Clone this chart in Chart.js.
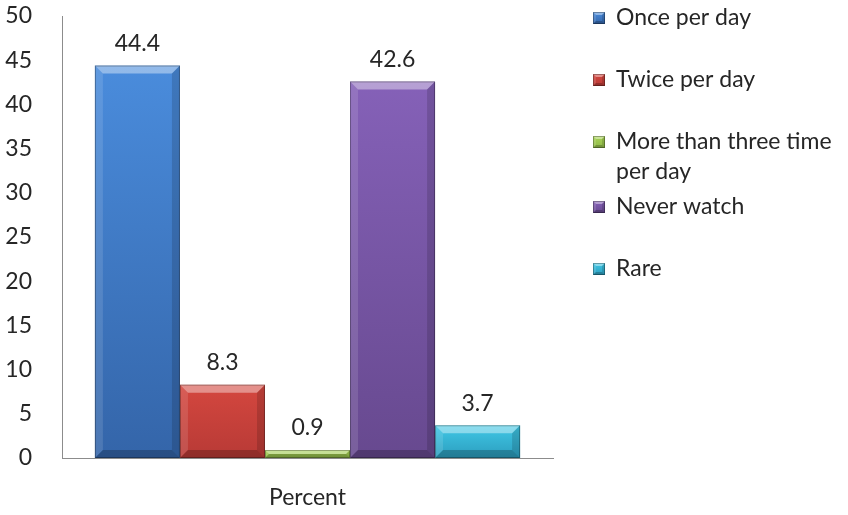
<!DOCTYPE html>
<html lang="en">
<head>
  <meta charset="UTF-8" />
  <title>Percent</title>
  <script src="https://cdn.jsdelivr.net/npm/chart.js"></script>
  <style>
    html, body { margin: 0; padding: 0; background: #fff; }
    .wrap { width: 848px; height: 515px; }
  </style>
</head>
<body>
  <div class="wrap"><canvas id="chart" width="848" height="515"></canvas></div>

  <script>
    const categories = ['Percent'];
    const seriesNames = ['Once per day', 'Twice per day', 'More than three time per day', 'Never watch', 'Rare'];
    const seriesValues = [[44.4], [8.3], [0.9], [42.6], [3.7]];
    const legendLines = [['Once per day'], ['Twice per day'], ['More than three time', 'per day'], ['Never watch'], ['Rare']];
    const yTicks = [0, 5, 10, 15, 20, 25, 30, 35, 40, 45, 50];

    // light / dark face colours per series
    const colorsTop = ['#4a8cdc', '#d4473f', '#a9d456', '#8561b8', '#40c8e6'];
    const colorsBottom = ['#3465a9', '#b83a36', '#8fb848', '#67498f', '#2c9dbe'];

    const FONT = 'Lato, "Open Sans", sans-serif';
    const FS = 23;
    const TEXT = '#262626';

    function faceGradient(ctx) {
      const chart = ctx.chart;
      const i = ctx.datasetIndex;
      const y = chart.scales && chart.scales.y;
      if (!y || ctx.parsed == null) return colorsTop[i];
      const top = y.getPixelForValue(ctx.parsed.y);
      const bot = y.getPixelForValue(0);
      if (!isFinite(top) || !isFinite(bot) || top === bot) return colorsTop[i];
      const g = chart.ctx.createLinearGradient(0, top, 0, bot);
      g.addColorStop(0, colorsTop[i]);
      g.addColorStop(1, colorsBottom[i]);
      return g;
    }

    function bevel(c, x0, y0, x1, y1, b) {
      b = Math.min(b, (y1 - y0) / 2, (x1 - x0) / 2);
      const poly = (pts, fill) => {
        c.beginPath();
        c.moveTo(pts[0][0], pts[0][1]);
        for (let k = 1; k < pts.length; k++) c.lineTo(pts[k][0], pts[k][1]);
        c.closePath();
        c.fillStyle = fill;
        c.fill();
      };
      poly([[x0, y0], [x1, y0], [x1 - b, y0 + b], [x0 + b, y0 + b]], 'rgba(255,255,255,0.4)');
      poly([[x0, y0], [x0 + b, y0 + b], [x0 + b, y1 - b], [x0, y1]], 'rgba(255,255,255,0.12)');
      poly([[x1, y0], [x1, y1], [x1 - b, y1 - b], [x1 - b, y0 + b]], 'rgba(0,0,0,0.14)');
      poly([[x0, y1], [x0 + b, y1 - b], [x1 - b, y1 - b], [x1, y1]], 'rgba(0,0,0,0.22)');
      c.strokeStyle = 'rgba(0,0,0,0.3)';
      c.lineWidth = 1;
      c.strokeRect(x0 + 0.5, y0 + 0.5, x1 - x0 - 1, y1 - y0 - 1);
    }

    const barExtras = {
      id: 'barExtras',
      afterDatasetsDraw(chart) {
        const c = chart.ctx;
        c.save();
        chart.data.datasets.forEach((ds, i) => {
          chart.getDatasetMeta(i).data.forEach((bar, j) => {
            const x0 = bar.x - bar.width / 2, x1 = bar.x + bar.width / 2;
            bevel(c, x0, bar.y, x1, bar.base, 8);
            c.fillStyle = TEXT;
            c.font = FS + 'px ' + FONT;
            c.textAlign = 'center';
            c.textBaseline = 'middle';
            c.fillText(String(ds.data[j]), bar.x, bar.y - 22);
          });
        });
        c.restore();
      },
      afterDraw(chart) {
        // legend on the right with wrapped labels
        const c = chart.ctx;
        c.save();
        c.font = FS + 'px ' + FONT;
        c.textBaseline = 'middle';
        c.textAlign = 'left';
        let y = 18;
        legendLines.forEach((lines, i) => {
          const g = c.createLinearGradient(0, y - 6, 0, y + 6);
          g.addColorStop(0, colorsTop[i]);
          g.addColorStop(1, colorsBottom[i]);
          c.fillStyle = g;
          c.fillRect(593, y - 6, 12, 12);
          bevel(c, 593, y - 6, 605, y + 6, 3);
          c.fillStyle = TEXT;
          lines.forEach((t, k) => c.fillText(t, 616, y + k * 30));
          y += 62 + (lines.length - 1) * 3;
        });
        c.restore();
      }
    };

    new Chart(document.getElementById('chart'), {
      type: 'bar',
      data: {
        labels: categories,
        datasets: seriesNames.map((name, i) => ({
          label: name,
          data: seriesValues[i],
          backgroundColor: faceGradient,
          borderWidth: 0,
          barPercentage: 1,
          categoryPercentage: 0.866
        }))
      },
      options: {
        responsive: false,
        animation: false,
        layout: { padding: { top: 16, right: 295, left: 0, bottom: 0 } },
        plugins: {
          legend: { display: false },
          tooltip: { enabled: false }
        },
        scales: {
          x: {
            grid: { display: false },
            border: { display: true, color: '#8c8c8c' },
            ticks: { color: TEXT, font: { family: FONT, size: FS }, padding: 18 },
            afterFit(s) { s.height = 57; s.paddingLeft = 0; s.paddingRight = 0; }
          },
          y: {
            min: 0,
            max: 50,
            afterBuildTicks(s) { s.ticks = yTicks.map(v => ({ value: v })); },
            grid: { display: false },
            border: { display: true, color: '#8c8c8c' },
            ticks: { color: TEXT, font: { family: FONT, size: FS }, padding: 22 },
            afterFit(s) { s.width = 62; s.paddingTop = 0; s.paddingBottom = 0; }
          }
        }
      },
      plugins: [barExtras]
    });
  </script>
</body>
</html>
